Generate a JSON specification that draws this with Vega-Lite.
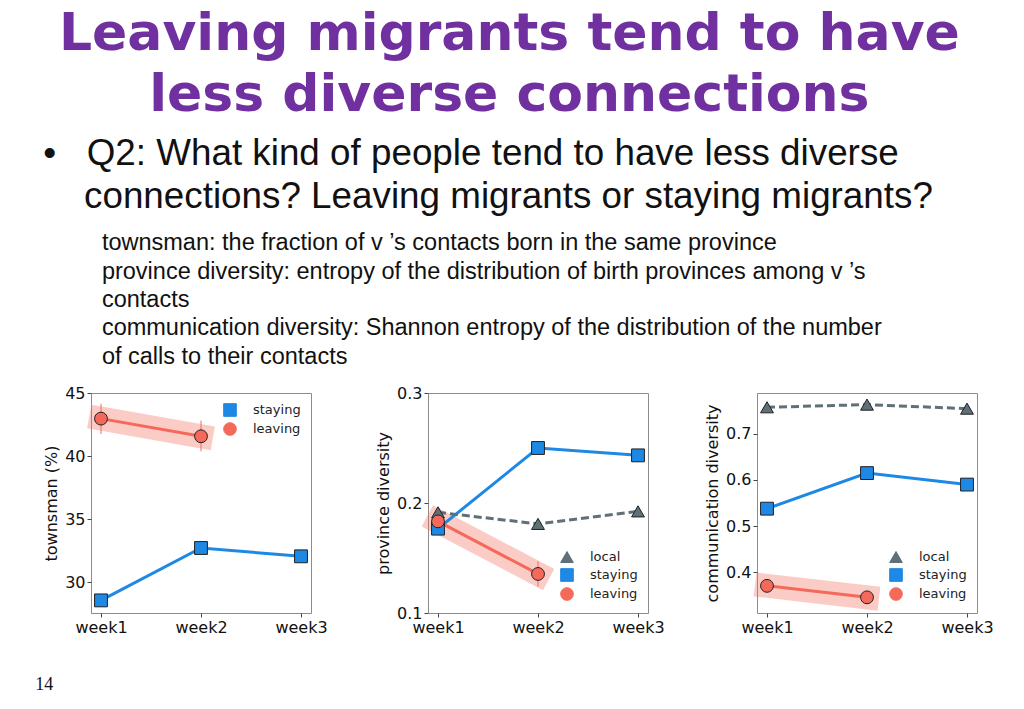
{
  "$schema": "https://vega.github.io/schema/vega-lite/v6.json",
  "background": "white",
  "padding": {"left": 35, "top": 7, "right": 5, "bottom": 5},
  "datasets": {
    "townsman": [
      {"week": "week1", "group": "staying", "value": 28.57},
      {"week": "week2", "group": "staying", "value": 32.72},
      {"week": "week3", "group": "staying", "value": 32.06},
      {"week": "week1", "group": "leaving", "value": 42.97, "lo": 41.75, "hi": 44.15},
      {"week": "week2", "group": "leaving", "value": 41.57, "lo": 40.38, "hi": 42.81}
    ],
    "province": [
      {"week": "week1", "group": "local", "value": 0.1915},
      {"week": "week2", "group": "local", "value": 0.181},
      {"week": "week3", "group": "local", "value": 0.1924},
      {"week": "week1", "group": "staying", "value": 0.1767},
      {"week": "week2", "group": "staying", "value": 0.25},
      {"week": "week3", "group": "staying", "value": 0.2433},
      {"week": "week1", "group": "leaving", "value": 0.1833},
      {"week": "week2", "group": "leaving", "value": 0.1355, "lo": 0.124, "hi": 0.147}
    ],
    "communication": [
      {"week": "week1", "group": "local", "value": 0.758},
      {"week": "week2", "group": "local", "value": 0.7638},
      {"week": "week3", "group": "local", "value": 0.755},
      {"week": "week1", "group": "staying", "value": 0.5377},
      {"week": "week2", "group": "staying", "value": 0.615},
      {"week": "week3", "group": "staying", "value": 0.59},
      {"week": "week1", "group": "leaving", "value": 0.37},
      {"week": "week2", "group": "leaving", "value": 0.345}
    ]
  },
  "config": {
    "view": {"stroke": "#8c8c8c", "strokeWidth": 1},
    "axis": {
      "grid": false, "domain": false,
      "labelFont": "DejaVu Sans", "labelFontSize": 16, "labelColor": "#111",
      "titleFont": "DejaVu Sans", "titleFontSize": 16, "titleFontWeight": "normal", "titleColor": "#111",
      "tickColor": "#444", "tickSize": 4, "labelPadding": 2, "titlePadding": 5
    },
    "legend": {
      "labelFont": "DejaVu Sans", "labelFontSize": 13, "labelColor": "#222",
      "symbolStrokeColor": "#222", "symbolStrokeWidth": 1, "symbolSize": 160,
      "symbolOpacity": 1, "rowPadding": 1, "labelOffset": 16, "padding": 0
    }
  },
  "title": {
    "text": ["Leaving migrants tend to have", "less diverse connections"],
    "font": "DejaVu Sans", "fontSize": 52, "fontWeight": "bold", "color": "#7030a0",
    "anchor": "middle", "lineHeight": 61, "offset": 14, "dx": -5
  },
  "vconcat": [
    {
      "title": {
        "text": "14", "orient": "bottom", "anchor": "start", "font": "Liberation Serif",
        "fontSize": 18, "fontWeight": "normal", "color": "#111", "offset": 30, "dx": -8
      },
      "vconcat": [
        {
          "title": {
            "text": ["•\u00a0\u00a0\u00a0Q2: What kind of people tend to have less diverse", "\u200b\u00a0\u00a0\u00a0\u00a0connections? Leaving migrants or staying migrants?"],
            "subtitle": [
              "\u200b\u00a0\u00a0\u00a0\u00a0\u00a0\u00a0\u00a0\u00a0\u00a0townsman: the fraction of v ’s contacts born in the same province",
              "\u200b\u00a0\u00a0\u00a0\u00a0\u00a0\u00a0\u00a0\u00a0\u00a0province diversity:  entropy of the distribution of birth provinces among v ’s",
              "\u200b\u00a0\u00a0\u00a0\u00a0\u00a0\u00a0\u00a0\u00a0\u00a0contacts",
              "\u200b\u00a0\u00a0\u00a0\u00a0\u00a0\u00a0\u00a0\u00a0\u00a0communication diversity: Shannon entropy of the distribution of the number",
              "\u200b\u00a0\u00a0\u00a0\u00a0\u00a0\u00a0\u00a0\u00a0\u00a0of calls to their contacts"
            ],
            "anchor": "start", "font": "Liberation Sans", "fontSize": 36.8, "fontWeight": "normal",
            "color": "#111", "lineHeight": 43,
            "subtitleFont": "Liberation Sans", "subtitleFontSize": 23.5, "subtitleColor": "#111",
            "subtitleLineHeight": 28.3, "subtitlePadding": 16, "offset": 2
          },
          "spacing": 47,
          "resolve": {"scale": {"color": "independent", "shape": "independent", "y": "independent"}, "legend": {"color": "independent", "shape": "independent"}},
          "hconcat": [
            {
              "width": 220, "height": 220,
              "data": {"name": "townsman"},
              "encoding": {
                "x": {"field": "week", "type": "ordinal", "scale": {"type": "point", "padding": 0.1, "domain": ["week1", "week2", "week3"]}, "axis": {"title": null, "labelAngle": 0}}
              },
              "layer": [
                {
                  "transform": [{"filter": "datum.group === 'leaving'"}],
                  "mark": {"type": "line", "strokeWidth": 24, "strokeCap": "square", "color": "#f4695a", "opacity": 0.35},
                  "encoding": {"y": {"field": "value", "type": "quantitative", "scale": {"domain": [27.57, 45], "nice": false, "zero": false}, "axis": {"values": [30, 35, 40, 45], "title": "townsman (%)"}}}
                },
                {
                  "transform": [{"filter": "isValid(datum.lo)"}],
                  "mark": {"type": "rule", "color": "#f4695a", "strokeWidth": 1},
                  "encoding": {"y": {"field": "lo", "type": "quantitative"}, "y2": {"field": "hi"}}
                },
                {
                  "mark": {"type": "line", "strokeWidth": 3},
                  "encoding": {
                    "y": {"field": "value", "type": "quantitative"},
                    "color": {"field": "group", "type": "nominal", "scale": {"domain": ["staying", "leaving"], "range": ["#1e88e5", "#f4695a"]}}
                  }
                },
                {
                  "mark": {"type": "point", "filled": true, "size": 165, "stroke": "#222", "strokeWidth": 1, "opacity": 1},
                  "encoding": {
                    "y": {"field": "value", "type": "quantitative"},
                    "color": {"field": "group", "type": "nominal", "legend": {"title": null, "orient": "top-right", "offset": 10}},
                    "shape": {"field": "group", "type": "nominal", "scale": {"domain": ["staying", "leaving"], "range": ["square", "circle"]}, "legend": {"title": null, "orient": "top-right", "offset": 10}}
                  }
                }
              ]
            },
            {
              "spacing": 39,
              "resolve": {"scale": {"color": "independent", "shape": "independent", "y": "independent"}, "legend": {"color": "independent", "shape": "independent"}},
              "hconcat": [
                {
                  "width": 220, "height": 220,
                  "data": {"name": "province"},
                  "encoding": {
                    "x": {"field": "week", "type": "ordinal", "scale": {"type": "point", "padding": 0.1, "domain": ["week1", "week2", "week3"]}, "axis": {"title": null, "labelAngle": 0}}
                  },
                  "layer": [
                    {
                      "transform": [{"filter": "datum.group === 'leaving'"}],
                      "mark": {"type": "line", "strokeWidth": 24, "strokeCap": "square", "color": "#f4695a", "opacity": 0.35},
                      "encoding": {"y": {"field": "value", "type": "quantitative", "scale": {"domain": [0.1, 0.3], "nice": false, "zero": false}, "axis": {"values": [0.1, 0.2, 0.3], "format": ".1f", "title": "province diversity"}}}
                    },
                    {
                      "transform": [{"filter": "isValid(datum.lo)"}],
                      "mark": {"type": "rule", "color": "#f4695a", "strokeWidth": 1},
                      "encoding": {"y": {"field": "lo", "type": "quantitative"}, "y2": {"field": "hi"}}
                    },
                    {
                      "transform": [{"filter": "datum.group !== 'local'"}],
                      "mark": {"type": "line", "strokeWidth": 3},
                      "encoding": {
                        "y": {"field": "value", "type": "quantitative"},
                        "color": {"field": "group", "type": "nominal", "scale": {"domain": ["local", "staying", "leaving"], "range": ["#607078", "#1e88e5", "#f4695a"]}}
                      }
                    },
                    {
                      "transform": [{"filter": "datum.group === 'local'"}],
                      "mark": {"type": "line", "strokeWidth": 3, "strokeDash": [8, 4]},
                      "encoding": {
                        "y": {"field": "value", "type": "quantitative"},
                        "color": {"field": "group", "type": "nominal"}
                      }
                    },
                    {
                      "mark": {"type": "point", "filled": true, "size": 165, "stroke": "#222", "strokeWidth": 1, "opacity": 1},
                      "encoding": {
                        "y": {"field": "value", "type": "quantitative"},
                        "color": {"field": "group", "type": "nominal", "legend": {"title": null, "orient": "bottom-right", "offset": 10}},
                        "shape": {"field": "group", "type": "nominal", "scale": {"domain": ["local", "staying", "leaving"], "range": ["triangle-up", "square", "circle"]}, "legend": {"title": null, "orient": "bottom-right", "offset": 10}}
                      }
                    }
                  ]
                },
                {
                  "width": 220, "height": 220,
                  "data": {"name": "communication"},
                  "encoding": {
                    "x": {"field": "week", "type": "ordinal", "scale": {"type": "point", "padding": 0.1, "domain": ["week1", "week2", "week3"]}, "axis": {"title": null, "labelAngle": 0}}
                  },
                  "layer": [
                    {
                      "transform": [{"filter": "datum.group === 'leaving'"}],
                      "mark": {"type": "line", "strokeWidth": 24, "strokeCap": "square", "color": "#f4695a", "opacity": 0.35},
                      "encoding": {"y": {"field": "value", "type": "quantitative", "scale": {"domain": [0.311, 0.789], "nice": false, "zero": false}, "axis": {"values": [0.4, 0.5, 0.6, 0.7], "format": ".1f", "title": "communication diversity"}}}
                    },
                    {
                      "transform": [{"filter": "datum.group !== 'local'"}],
                      "mark": {"type": "line", "strokeWidth": 3},
                      "encoding": {
                        "y": {"field": "value", "type": "quantitative"},
                        "color": {"field": "group", "type": "nominal", "scale": {"domain": ["local", "staying", "leaving"], "range": ["#607078", "#1e88e5", "#f4695a"]}}
                      }
                    },
                    {
                      "transform": [{"filter": "datum.group === 'local'"}],
                      "mark": {"type": "line", "strokeWidth": 3, "strokeDash": [8, 4]},
                      "encoding": {
                        "y": {"field": "value", "type": "quantitative"},
                        "color": {"field": "group", "type": "nominal"}
                      }
                    },
                    {
                      "mark": {"type": "point", "filled": true, "size": 165, "stroke": "#222", "strokeWidth": 1, "opacity": 1},
                      "encoding": {
                        "y": {"field": "value", "type": "quantitative"},
                        "color": {"field": "group", "type": "nominal", "legend": {"title": null, "orient": "bottom-right", "offset": 10}},
                        "shape": {"field": "group", "type": "nominal", "scale": {"domain": ["local", "staying", "leaving"], "range": ["triangle-up", "square", "circle"]}, "legend": {"title": null, "orient": "bottom-right", "offset": 10}}
                      }
                    }
                  ]
                }
              ]
            }
          ]
        }
      ]
    }
  ]
}
